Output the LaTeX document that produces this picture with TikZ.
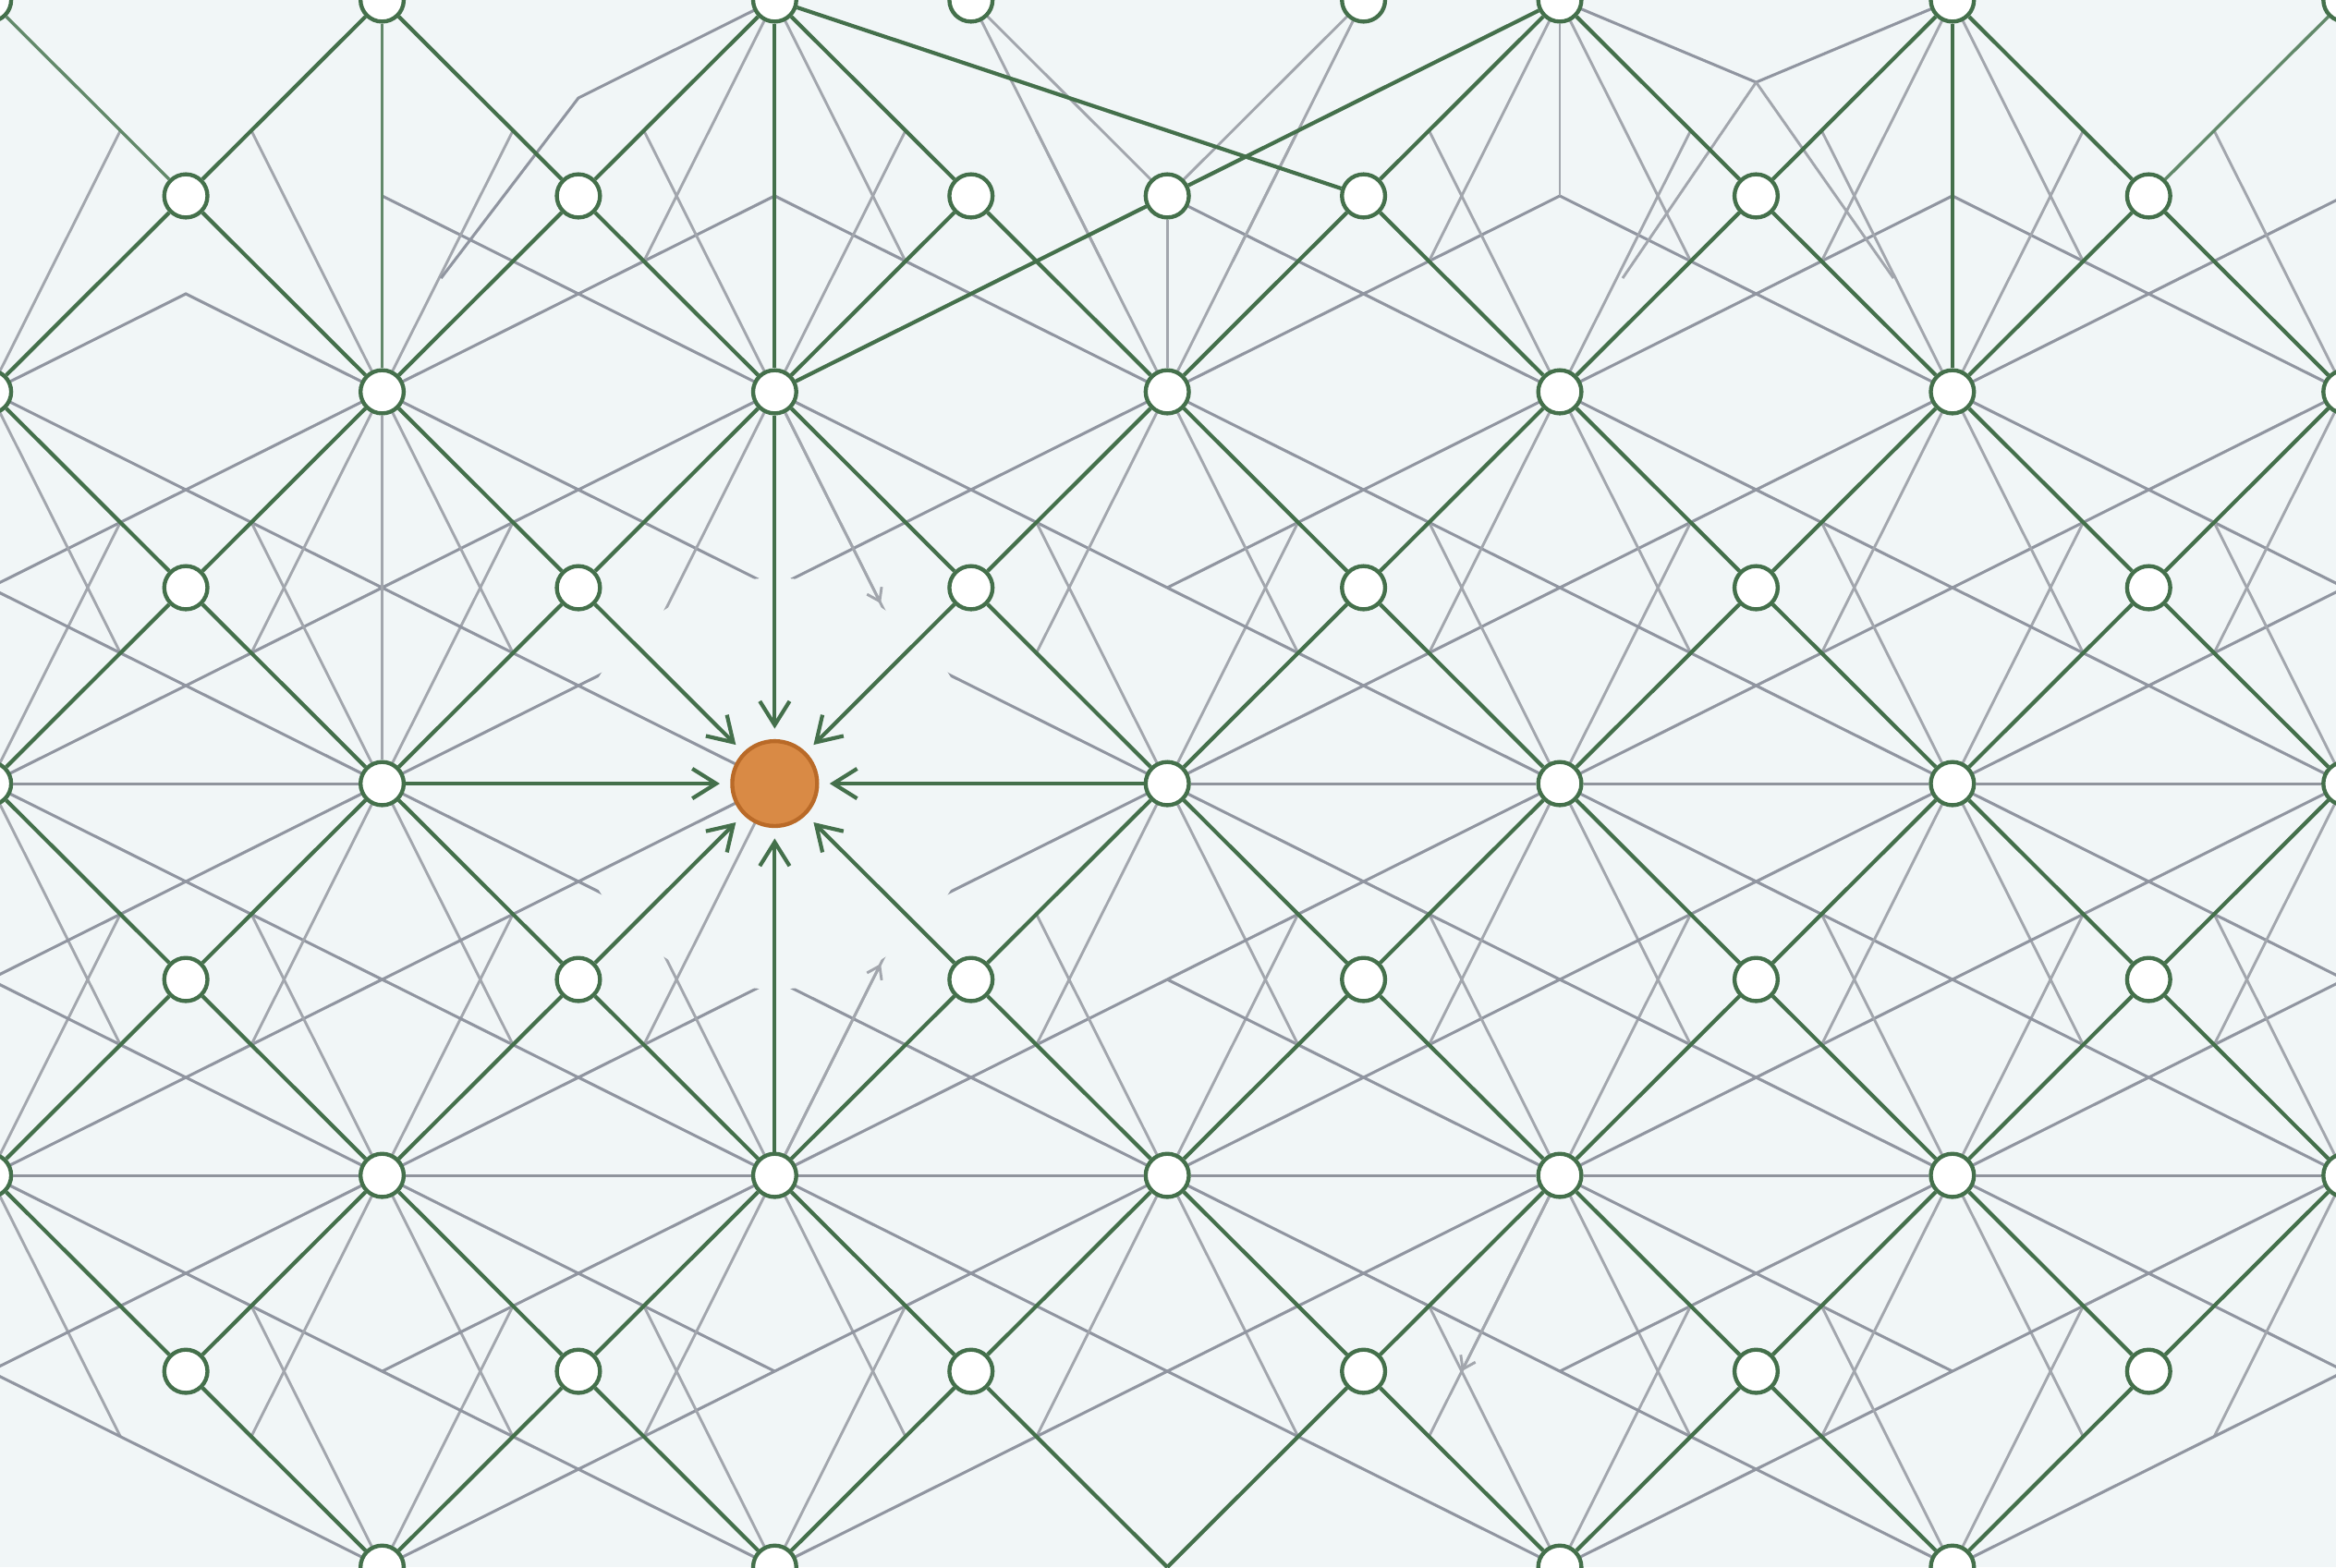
\documentclass[tikz,border=0pt]{standalone}
\usetikzlibrary{arrows.meta}
\definecolor{bg}{HTML}{F1F6F7}
\definecolor{grn}{HTML}{44704B}
\definecolor{grnL}{HTML}{62896A}
\definecolor{gryA}{HTML}{9095A0}
\definecolor{gryB}{HTML}{A2A6AD}
\definecolor{gryH}{HTML}{8F949C}
\definecolor{orgF}{HTML}{D98A45}
\definecolor{orgD}{HTML}{B96A28}
\newcommand\mysteep[2]{%
  \draw[webB] (#1,#2) -- ++(0.3333,0.6667);
  \draw[webB] (#1,#2) -- ++(-0.3333,0.6667);
  \draw[webB] (#1,#2) -- ++(0.3333,-0.6667);
  \draw[webB] (#1,#2) -- ++(-0.3333,-0.6667);}
\newcommand\myshal[2]{%
  \draw[webA] (#1,#2) -- ++(1,0.5);
  \draw[webA] (#1,#2) -- ++(-1,0.5);
  \draw[webA] (#1,#2) -- ++(1,-0.5);
  \draw[webA] (#1,#2) -- ++(-1,-0.5);}
\newcommand\myshaldown[2]{%
  \draw[webA] (#1,#2) -- ++(1,0.5);
  \draw[webA] (#1,#2) -- ++(-1,0.5);}
\begin{document}
\begin{tikzpicture}[x=263.5pt,y=-263pt,
  nd/.style={circle,draw=grn,fill=white,line width=2.7pt,minimum size=29pt,inner sep=0pt},
  focal/.style={circle,draw=orgD,fill=orgF,line width=2.7pt,minimum size=57pt,inner sep=0pt},
  gedge/.style={draw=grn,line width=2.6pt},
  gedgeL/.style={draw=grnL,line width=2.1pt},
  webA/.style={draw=gryA,line width=1.9pt},
  webB/.style={draw=gryB,line width=1.8pt},
  webH/.style={draw=gryH,line width=1.9pt},
  into/.style={gedge,-{Straight Barb[length=16pt,width=20pt]},shorten >=7pt},
  garrow/.style={webB,-{Straight Barb[length=8pt,width=11pt]}}]
\useasboundingbox (0.026565,0) rectangle (5.97723,4);
\fill[bg] (0.026565,0) rectangle (5.97723,4);
% gray web: shallow segments (slope +-1/2) and short steep segments (slope +-2)
\foreach \i in {2,...,6} {\myshal{\i}{1}}
\myshaldown{0}{1}\myshaldown{1}{1}
\draw[webA] (1,1) -- ++(1,-0.5);
\draw[webA] (0,1) -- (0.5,0.75) -- (1,1);
\foreach \i in {0,...,6} {\myshal{\i}{3}\mysteep{\i}{1}\mysteep{\i}{3}}
\foreach \i in {0,1,3,4,5,6} {\myshal{\i}{2}\mysteep{\i}{2}}
\foreach \i in {1,2,4,5} {\myshal{\i}{4}\mysteep{\i}{4}}
% top row web
\draw[webA] (2,0) -- (1.5,0.25) -- (1.15,0.71);
\draw[webA] (4,0) -- (4.5,0.21) -- (5,0);
\draw[webB] (4.5,0.21) -- (4.16,0.71);
\draw[webB] (4.5,0.21) -- (4.85,0.71);
\foreach \i in {2,4,5} {\draw[webB] (\i,0) -- ++(0.3333,0.6667); \draw[webB] (\i,0) -- ++(-0.3333,0.6667);}
\draw[webB] (2.5,0) -- ++(0.3333,0.6667);
\draw[webB] (3.5,0) -- ++(-0.3333,0.6667);
\draw[webB] (2.5,0) -- (3,0.5);
\draw[webB] (3.5,0) -- (3,0.5);
% clear area round the focal node
\fill[bg] (2,2) circle (138pt);
\draw[webA] (1,1.5) -- (2,2);
\draw[webA] (1,2.5) -- (2,2);
\draw[webB] (1.6667,2.6667) -- (2,2);
\draw[garrow] (2,1) -- (2.27,1.54);
\draw[garrow] (2,3) -- (2.27,2.46);
\draw[garrow] (4,3) -- (3.75,3.5);
% nodes
\foreach \i in {0,1,2,4,5,6} {\node[nd] (L-\i-0) at (\i,0) {};}
\foreach \i in {0,...,6} {\node[nd] (L-\i-1) at (\i,1) {};}
\foreach \i in {0,1,3,4,5,6} {\node[nd] (L-\i-2) at (\i,2) {};}
\foreach \i in {0,...,6} {\node[nd] (L-\i-3) at (\i,3) {};}
\foreach \i in {1,2,4,5} {\node[nd] (L-\i-4) at (\i,4) {};}
\coordinate (L-3-4) at (3,4);
\node[nd] (T25) at (2.5,0) {};
\node[nd] (T35) at (3.5,0) {};
\node[nd] (M3) at (3,0.5) {};
\foreach \a in {0,...,5} {\foreach \b in {0,...,3} {\node[nd] (H-\a-\b) at (\a+0.5,\b+0.5) {};}}
\node[focal] (F) at (2,2) {};
% gray straight edges
\draw[webH] (L-0-2) -- (L-1-2);
\draw[webH] (L-3-2) -- (L-4-2);
\draw[webH] (L-4-2) -- (L-5-2);
\draw[webH] (L-5-2) -- (L-6-2);
\draw[webH] (-0.2,3) -- (L-0-3);
\foreach \i [count=\k from 1] in {0,...,5} {\draw[webH] (L-\i-3) -- (L-\k-3);}
\draw[webH] (L-6-3) -- (6.2,3);
\draw[webB] (L-1-1) -- (L-1-2);
\draw[webB] (L-4-0) -- (4,0.5);
\draw[webB] (M3) -- (L-3-1);
% green diamond lattice
\foreach \a in {0,...,5} {\foreach \b in {0,...,3} {
  \pgfmathtruncatemacro\an{\a+1}
  \pgfmathtruncatemacro\bn{\b+1}
  \foreach \ci/\cj in {\a/\b,\an/\b,\a/\bn,\an/\bn} {
    \pgfmathtruncatemacro\myskip{((\ci==3)&&(\cj==0)) || ((\ci==2)&&(\cj==2)) || ((\ci==0)&&(\cj==4)) || ((\ci==6)&&(\cj==4)) || ((\ci==0)&&(\cj==0)) || ((\ci==6)&&(\cj==0)) ? 1 : 0}
    \ifnum\myskip=0 \draw[gedge] (H-\a-\b) -- (L-\ci-\cj);\fi
  }
}}
\draw[gedgeL] (L-0-0) -- (H-0-0);
\draw[gedgeL] (L-6-0) -- (H-5-0);
\draw[gedgeL] (L-1-0) -- (L-1-1);
\draw[gedge] (L-2-0) -- (L-2-1);
\draw[gedge] (L-5-0) -- (L-5-1);
\draw[gedge] (L-2-0) -- (H-3-0);
\draw[gedge] (L-4-0) -- (M3);
\draw[gedge] (M3) -- (L-2-1);
% arrows into the focal node
\draw[into] (H-1-1) -- (F);
\draw[into] (H-2-1) -- (F);
\draw[into] (H-1-2) -- (F);
\draw[into] (H-2-2) -- (F);
\draw[into] (L-2-1) -- (F);
\draw[into] (L-2-3) -- (F);
\draw[into] (L-1-2) -- (F);
\draw[into] (L-3-2) -- (F);
\end{tikzpicture}
\end{document}
